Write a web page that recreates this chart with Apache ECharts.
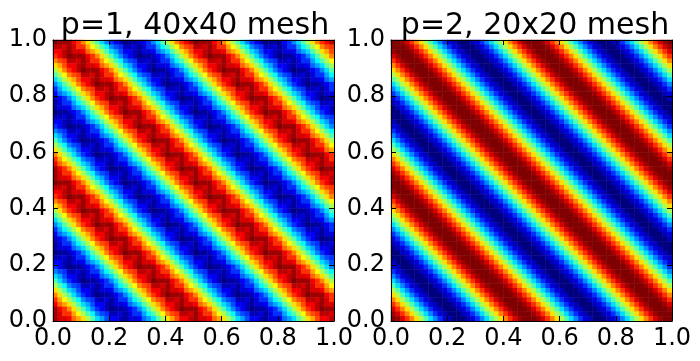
<!DOCTYPE html>
<html>
<head>
<meta charset="utf-8">
<style>html,body{margin:0;padding:0;background:#fff}#main{width:700px;height:361px}</style>
<script src="https://cdn.jsdelivr.net/npm/echarts@6/dist/echarts.min.js"></script>
</head>
<body>
<div id="main"></div>
<script>
var titles = ['p=1, 40x40 mesh', 'p=2, 20x20 mesh'];
var tickLabels = ['0.0', '0.2', '0.4', '0.6', '0.8', '1.0'];
var jet = ['#00007f', '#0000ff', '#007fff', '#00ffff', '#7fff7f', '#ffff00', '#ff7f00', '#ff0000', '#7f0000'];
// one string per image row, top row first, one base 36 digit per cell (0 = -1, z = +1)
var rowsP1 = [
'zyyyvtqnjgc96420112469cgjnqtvxzyyyvtqnjgc96420112469cgjnqtvx',
'xxwywttpmjgd9762231366adgjmqstxxwywttpmjgd9762231366adgjmqst',
'vvxywwvrpnjgca744213348acgjnpsvvxywwvrpnjgca744213348acgjnps',
'tvxzyyyvtqnjgc96420112469cgjnqtvxzyyyvtqnjgc96420112469cgjnq',
'qstxxwywttpmjgd9762231366adgjmqstxxwywttpmjgd9762231366adgjm',
'npsvvxywwvrpnjgca744213348acgjnpsvvxywwvrpnjgca744213348acgj',
'jnqtvxzyyyvtqnjgc96420112469cgjnqtvxzyyyvtqnjgc96420112469cg',
'gjmqstxxwywttpmjgd9762231366adgjmqstxxwywttpmjgd9762231366ad',
'cgjnpsvvxywwvrpnjgca744213348acgjnpsvvxywwvrpnjgca744213348a',
'9cgjnqtvxzyyyvtqnjgc96420112469cgjnqtvxzyyyvtqnjgc9642011246',
'6adgjmqstxxwywttpmjgd9762231366adgjmqstxxwywttpmjgd976223136',
'48acgjnpsvvxywwvrpnjgca744213348acgjnpsvvxywwvrpnjgca7442133',
'2469cgjnqtvxzyyyvtqnjgc96420112469cgjnqtvxzyyyvtqnjgc9642011',
'1366adgjmqstxxwywttpmjgd9762231366adgjmqstxxwywttpmjgd976223',
'13348acgjnpsvvxywwvrpnjgca744213348acgjnpsvvxywwvrpnjgca7442',
'0112469cgjnqtvxzyyyvtqnjgc96420112469cgjnqtvxzyyyvtqnjgc9642',
'2231366adgjmqstxxwywttpmjgd9762231366adgjmqstxxwywttpmjgd976',
'44213348acgjnpsvvxywwvrpnjgca744213348acgjnpsvvxywwvrpnjgca7',
'6420112469cgjnqtvxzyyyvtqnjgc96420112469cgjnqtvxzyyyvtqnjgc9',
'9762231366adgjmqstxxwywttpmjgd9762231366adgjmqstxxwywttpmjgd',
'ca744213348acgjnpsvvxywwvrpnjgca744213348acgjnpsvvxywwvrpnjg',
'gc96420112469cgjnqtvxzyyyvtqnjgc96420112469cgjnqtvxzyyyvtqnj',
'jgd9762231366adgjmqstxxwywttpmjgd9762231366adgjmqstxxwywttpm',
'njgca744213348acgjnpsvvxywwvrpnjgca744213348acgjnpsvvxywwvrp',
'qnjgc96420112469cgjnqtvxzyyyvtqnjgc96420112469cgjnqtvxzyyyvt',
'tpmjgd9762231366adgjmqstxxwywttpmjgd9762231366adgjmqstxxwywt',
'vrpnjgca744213348acgjnpsvvxywwvrpnjgca744213348acgjnpsvvxyww',
'yvtqnjgc96420112469cgjnqtvxzyyyvtqnjgc96420112469cgjnqtvxzyy',
'ywttpmjgd9762231366adgjmqstxxwywttpmjgd9762231366adgjmqstxxw',
'ywwvrpnjgca744213348acgjnpsvvxywwvrpnjgca744213348acgjnpsvvx',
'zyyyvtqnjgc96420112469cgjnqtvxzyyyvtqnjgc96420112469cgjnqtvx',
'xxwywttpmjgd9762231366adgjmqstxxwywttpmjgd9762231366adgjmqst',
'vvxywwvrpnjgca744213348acgjnpsvvxywwvrpnjgca744213348acgjnps',
'tvxzyyyvtqnjgc96420112469cgjnqtvxzyyyvtqnjgc96420112469cgjnq',
'qstxxwywttpmjgd9762231366adgjmqstxxwywttpmjgd9762231366adgjm',
'npsvvxywwvrpnjgca744213348acgjnpsvvxywwvrpnjgca744213348acgj',
'jnqtvxzyyyvtqnjgc96420112469cgjnqtvxzyyyvtqnjgc96420112469cg',
'gjmqstxxwywttpmjgd9762231366adgjmqstxxwywttpmjgd9762231366ad',
'cgjnpsvvxywwvrpnjgca744213348acgjnpsvvxywwvrpnjgca744213348a',
'9cgjnqtvxzyyyvtqnjgc96420112469cgjnqtvxzyyyvtqnjgc9642011246',
'6adgjmqstxxwywttpmjgd9762231366adgjmqstxxwywttpmjgd976223136',
'48acgjnpsvvxywwvrpnjgca744213348acgjnpsvvxywwvrpnjgca7442133',
'2469cgjnqtvxzyyyvtqnjgc96420112469cgjnqtvxzyyyvtqnjgc9642011',
'1366adgjmqstxxwywttpmjgd9762231366adgjmqstxxwywttpmjgd976223',
'13348acgjnpsvvxywwvrpnjgca744213348acgjnpsvvxywwvrpnjgca7442',
'0112469cgjnqtvxzyyyvtqnjgc96420112469cgjnqtvxzyyyvtqnjgc9642',
'2231366adgjmqstxxwywttpmjgd9762231366adgjmqstxxwywttpmjgd976',
'44213348acgjnpsvvxywwvrpnjgca744213348acgjnpsvvxywwvrpnjgca7',
'6420112469cgjnqtvxzyyyvtqnjgc96420112469cgjnqtvxzyyyvtqnjgc9',
'9762231366adgjmqstxxwywttpmjgd9762231366adgjmqstxxwywttpmjgd',
'ca744213348acgjnpsvvxywwvrpnjgca744213348acgjnpsvvxywwvrpnjg',
'gc96420112469cgjnqtvxzyyyvtqnjgc96420112469cgjnqtvxzyyyvtqnj',
'jgd9762231366adgjmqstxxwywttpmjgd9762231366adgjmqstxxwywttpm',
'njgca744213348acgjnpsvvxywwvrpnjgca744213348acgjnpsvvxywwvrp',
'qnjgc96420112469cgjnqtvxzyyyvtqnjgc96420112469cgjnqtvxzyyyvt',
'tpmjgd9762231366adgjmqstxxwywttpmjgd9762231366adgjmqstxxwywt',
'vrpnjgca744213348acgjnpsvvxywwvrpnjgca744213348acgjnpsvvxyww',
'yvtqnjgc96420112469cgjnqtvxzyyyvtqnjgc96420112469cgjnqtvxzyy',
'ywttpmjgd9762231366adgjmqstxxwywttpmjgd9762231366adgjmqstxxw',
'ywwvrpnjgca744213348acgjnpsvvxywwvrpnjgca744213348acgjnpsvvx'
];
var rowsP2 = [
'zzywtqnjgc96320002369cgjnqtwyzzzywtqnjgc96320002369cgjnqtwyz',
'zzzywtqnjgc96320002369cgjnqtwyzzzywtqnjgc96320002369cgjnqtwy',
'yzzzywtqnjgc96320002369cgjnqtwyzzzywtqnjgc96320002369cgjnqtw',
'wyzzzywtqnjgc96320002369cgjnqtwyzzzywtqnjgc96320002369cgjnqt',
'twyzzzywtqnjgc96320002369cgjnqtwyzzzywtqnjgc96320002369cgjnq',
'qtwyzzzywtqnjgc96320002369cgjnqtwyzzzywtqnjgc96320002369cgjn',
'nqtwyzzzywtqnjgc96320002369cgjnqtwyzzzywtqnjgc96320002369cgj',
'jnqtwyzzzywtqnjgc96320002369cgjnqtwyzzzywtqnjgc96320002369cg',
'gjnqtwyzzzywtqnjgc96320002369cgjnqtwyzzzywtqnjgc96320002369c',
'cgjnqtwyzzzywtqnjgc96320002369cgjnqtwyzzzywtqnjgc96320002369',
'9cgjnqtwyzzzywtqnjgc96320002369cgjnqtwyzzzywtqnjgc9632000236',
'69cgjnqtwyzzzywtqnjgc96320002369cgjnqtwyzzzywtqnjgc963200023',
'369cgjnqtwyzzzywtqnjgc96320002369cgjnqtwyzzzywtqnjgc96320002',
'2369cgjnqtwyzzzywtqnjgc96320002369cgjnqtwyzzzywtqnjgc9632000',
'02369cgjnqtwyzzzywtqnjgc96320002369cgjnqtwyzzzywtqnjgc963200',
'002369cgjnqtwyzzzywtqnjgc96320002369cgjnqtwyzzzywtqnjgc96320',
'0002369cgjnqtwyzzzywtqnjgc96320002369cgjnqtwyzzzywtqnjgc9632',
'20002369cgjnqtwyzzzywtqnjgc96320002369cgjnqtwyzzzywtqnjgc963',
'320002369cgjnqtwyzzzywtqnjgc96320002369cgjnqtwyzzzywtqnjgc96',
'6320002369cgjnqtwyzzzywtqnjgc96320002369cgjnqtwyzzzywtqnjgc9',
'96320002369cgjnqtwyzzzywtqnjgc96320002369cgjnqtwyzzzywtqnjgc',
'c96320002369cgjnqtwyzzzywtqnjgc96320002369cgjnqtwyzzzywtqnjg',
'gc96320002369cgjnqtwyzzzywtqnjgc96320002369cgjnqtwyzzzywtqnj',
'jgc96320002369cgjnqtwyzzzywtqnjgc96320002369cgjnqtwyzzzywtqn',
'njgc96320002369cgjnqtwyzzzywtqnjgc96320002369cgjnqtwyzzzywtq',
'qnjgc96320002369cgjnqtwyzzzywtqnjgc96320002369cgjnqtwyzzzywt',
'tqnjgc96320002369cgjnqtwyzzzywtqnjgc96320002369cgjnqtwyzzzyw',
'wtqnjgc96320002369cgjnqtwyzzzywtqnjgc96320002369cgjnqtwyzzzy',
'ywtqnjgc96320002369cgjnqtwyzzzywtqnjgc96320002369cgjnqtwyzzz',
'zywtqnjgc96320002369cgjnqtwyzzzywtqnjgc96320002369cgjnqtwyzz',
'zzywtqnjgc96320002369cgjnqtwyzzzywtqnjgc96320002369cgjnqtwyz',
'zzzywtqnjgc96320002369cgjnqtwyzzzywtqnjgc96320002369cgjnqtwy',
'yzzzywtqnjgc96320002369cgjnqtwyzzzywtqnjgc96320002369cgjnqtw',
'wyzzzywtqnjgc96320002369cgjnqtwyzzzywtqnjgc96320002369cgjnqt',
'twyzzzywtqnjgc96320002369cgjnqtwyzzzywtqnjgc96320002369cgjnq',
'qtwyzzzywtqnjgc96320002369cgjnqtwyzzzywtqnjgc96320002369cgjn',
'nqtwyzzzywtqnjgc96320002369cgjnqtwyzzzywtqnjgc96320002369cgj',
'jnqtwyzzzywtqnjgc96320002369cgjnqtwyzzzywtqnjgc96320002369cg',
'gjnqtwyzzzywtqnjgc96320002369cgjnqtwyzzzywtqnjgc96320002369c',
'cgjnqtwyzzzywtqnjgc96320002369cgjnqtwyzzzywtqnjgc96320002369',
'9cgjnqtwyzzzywtqnjgc96320002369cgjnqtwyzzzywtqnjgc9632000236',
'69cgjnqtwyzzzywtqnjgc96320002369cgjnqtwyzzzywtqnjgc963200023',
'369cgjnqtwyzzzywtqnjgc96320002369cgjnqtwyzzzywtqnjgc96320002',
'2369cgjnqtwyzzzywtqnjgc96320002369cgjnqtwyzzzywtqnjgc9632000',
'02369cgjnqtwyzzzywtqnjgc96320002369cgjnqtwyzzzywtqnjgc963200',
'002369cgjnqtwyzzzywtqnjgc96320002369cgjnqtwyzzzywtqnjgc96320',
'0002369cgjnqtwyzzzywtqnjgc96320002369cgjnqtwyzzzywtqnjgc9632',
'20002369cgjnqtwyzzzywtqnjgc96320002369cgjnqtwyzzzywtqnjgc963',
'320002369cgjnqtwyzzzywtqnjgc96320002369cgjnqtwyzzzywtqnjgc96',
'6320002369cgjnqtwyzzzywtqnjgc96320002369cgjnqtwyzzzywtqnjgc9',
'96320002369cgjnqtwyzzzywtqnjgc96320002369cgjnqtwyzzzywtqnjgc',
'c96320002369cgjnqtwyzzzywtqnjgc96320002369cgjnqtwyzzzywtqnjg',
'gc96320002369cgjnqtwyzzzywtqnjgc96320002369cgjnqtwyzzzywtqnj',
'jgc96320002369cgjnqtwyzzzywtqnjgc96320002369cgjnqtwyzzzywtqn',
'njgc96320002369cgjnqtwyzzzywtqnjgc96320002369cgjnqtwyzzzywtq',
'qnjgc96320002369cgjnqtwyzzzywtqnjgc96320002369cgjnqtwyzzzywt',
'tqnjgc96320002369cgjnqtwyzzzywtqnjgc96320002369cgjnqtwyzzzyw',
'wtqnjgc96320002369cgjnqtwyzzzywtqnjgc96320002369cgjnqtwyzzzy',
'ywtqnjgc96320002369cgjnqtwyzzzywtqnjgc96320002369cgjnqtwyzzz',
'zywtqnjgc96320002369cgjnqtwyzzzywtqnjgc96320002369cgjnqtwyzz'
];

function cells(rows) {
  var out = [];
  rows.forEach(function (row, i) {
    for (var j = 0; j < row.length; j++) {
      out.push([j, i, parseInt(row[j], 36) / 35 * 2 - 1]);
    }
  });
  return out;
}
var idx = [];
for (var n = 0; n < 60; n++) idx.push(n);

var font = 'DejaVu Sans';
var lefts = [53, 391];
var titleCentres = [190, 530];
var size = 281;
var grids = [], xAxes = [], yAxes = [], series = [], title = [];

function valueAxis(g, pos, labels) {
  return {
    type: 'value', gridIndex: g, position: pos, min: 0, max: 1, interval: 0.2, z: 5,
    splitLine: {show: false},
    axisLine: {show: true, onZero: false, lineStyle: {color: '#000', width: 1}},
    axisTick: {show: true, inside: true, length: 5, lineStyle: {color: '#000', width: 1}},
    axisLabel: {show: labels, fontFamily: font, fontSize: 24, color: '#000', margin: 6,
      formatter: function (v) { return tickLabels[Math.round(v * 5)]; }}
  };
}

[rowsP1, rowsP2].forEach(function (rows, g) {
  grids.push({left: lefts[g], top: 40, width: size, height: size, containLabel: false});
  title.push({text: titles[g], left: titleCentres[g], top: 6, textAlign: 'center',
    textStyle: {fontFamily: font, fontSize: 30, fontWeight: 'normal', color: '#000'}});
  xAxes.push({type: 'category', gridIndex: g, data: idx, show: false});
  xAxes.push(valueAxis(g, 'bottom', true));
  xAxes.push(valueAxis(g, 'top', false));
  yAxes.push({type: 'category', gridIndex: g, data: idx, show: false, inverse: true});
  yAxes.push(valueAxis(g, 'left', true));
  yAxes.push(valueAxis(g, 'right', false));
  series.push({type: 'heatmap', xAxisIndex: g * 3, yAxisIndex: g * 3, data: cells(rows),
    progressive: 0, animation: false, itemStyle: {borderWidth: 0}});
});

var myChart = echarts.init(document.getElementById('main'));
myChart.setOption({
  animation: false,
  title: title,
  grid: grids,
  xAxis: xAxes,
  yAxis: yAxes,
  visualMap: {show: false, type: 'continuous', min: -1, max: 1, dimension: 2, seriesIndex: [0, 1],
    inRange: {color: jet}},
  series: series
});
</script>
</body>
</html>
